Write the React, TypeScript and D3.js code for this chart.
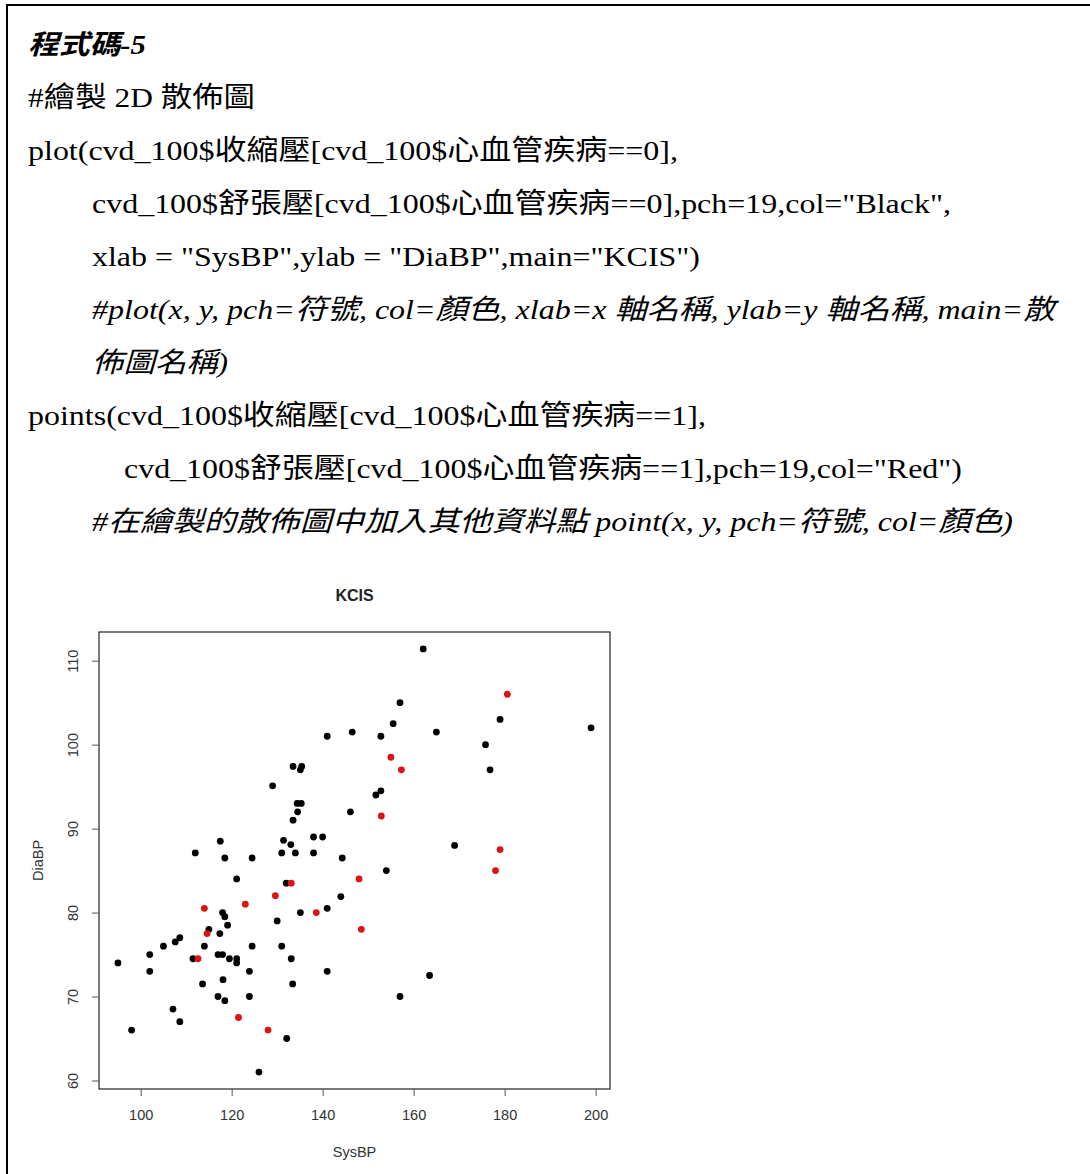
import React, { useEffect, useRef } from "react";
import * as d3 from "d3";

// ---- Data ----
const blackSys = [162.1, 157, 155.5, 179, 199, 141, 146.5, 152.8, 165, 175.8, 176.8, 133.5, 135.4, 135.1, 129, 151.7, 152.8, 134.4, 135.3, 134.5, 146.1, 133.5, 117.5, 131.4, 138, 140, 133, 169, 112, 131, 134, 138, 118.5, 124.5, 144.3, 154, 121.1, 132, 144, 141, 118, 118.5, 135.1, 130, 119.1, 115, 117.4, 108.6, 107.6, 105, 114, 124.5, 131, 102, 117, 118, 111.5, 119.5, 121.1, 121.1, 133.1, 95, 102, 123.9, 141, 118.1, 163.5, 113.6, 133.4, 117, 123.9, 157, 118.5, 107.1, 108.6, 98, 132.1, 126];
const blackDia = [111.4, 105, 102.5, 103, 102, 101, 101.5, 101, 101.5, 100, 97, 97.4, 97.4, 97, 95.1, 94, 94.5, 93, 93, 92, 92, 91, 88.5, 88.6, 89, 89, 88.1, 88, 87.1, 87.1, 87.1, 87.1, 86.5, 86.5, 86.5, 85, 84, 83.5, 81.9, 80.5, 80, 79.5, 80, 79, 78.5, 78, 77.5, 77, 76.5, 76, 76, 76, 76, 75, 75, 75, 74.5, 74.5, 74.5, 74, 74.5, 74, 73, 73, 73, 72, 72.5, 71.5, 71.5, 70, 70, 70, 69.5, 68.5, 67, 66, 65, 61];
const redSys = [180.6, 155, 157.3, 152.9, 179, 178, 148, 133.1, 129.6, 123, 114, 138.6, 148.5, 114.6, 112.6, 121.5, 128];
const redDia = [106, 98.5, 97, 91.5, 87.5, 85, 84, 83.5, 82, 81, 80.5, 80, 78, 77.5, 74.5, 67.5, 66];
const xTicks = [100, 120, 140, 160, 180, 200];
const yTicks = [60, 70, 80, 90, 100, 110];
const chartTitle = "KCIS";
const xLabel = "SysBP";
const yLabel = "DiaBP";

const codeLines = [
  "程式碼-5",
  "#繪製 2D 散佈圖",
  "plot(cvd_100$收縮壓[cvd_100$心血管疾病==0],",
  "cvd_100$舒張壓[cvd_100$心血管疾病==0],pch=19,col=\"Black\",",
  "xlab = \"SysBP\",ylab = \"DiaBP\",main=\"KCIS\")",
  "#plot(x, y, pch=符號, col=顏色, xlab=x 軸名稱, ylab=y 軸名稱, main=散",
  "佈圖名稱)",
  "points(cvd_100$收縮壓[cvd_100$心血管疾病==1],",
  "cvd_100$舒張壓[cvd_100$心血管疾病==1],pch=19,col=\"Red\")",
  "#在繪製的散佈圖中加入其他資料點 point(x, y, pch=符號, col=顏色)",
];

// layout for code lines (x start, baseline y, width, style)
const lineX = [28, 28, 28, 92, 92, 92, 92, 28, 124, 92];
const lineY = [54, 107, 160, 213, 266, 319, 372, 425, 478, 531];
const lineW = [118, 227, 650, 859, 608, 963, 136, 678, 838, 921];
const lineItalic = [true, false, false, false, false, true, true, false, false, true];
const lineBold = [true, false, false, false, false, false, false, false, false, false];

const W = 1090;
const H = 1174;
const plotL = 99, plotR = 610, plotT = 632, plotB = 1089;

export default function App() {
  const xAxisRef = useRef<SVGGElement>(null);
  const yAxisRef = useRef<SVGGElement>(null);

  const xExt = d3.extent([...blackSys, ...redSys]) as [number, number];
  const yExt = d3.extent([...blackDia, ...redDia]) as [number, number];
  const xPad = (xExt[1] - xExt[0]) * 0.04;
  const yPad = (yExt[1] - yExt[0]) * 0.04;
  const x = d3.scaleLinear().domain([xExt[0] - xPad, xExt[1] + xPad]).range([plotL, plotR]);
  const y = d3.scaleLinear().domain([yExt[0] - yPad, yExt[1] + yPad]).range([plotB, plotT]);

  useEffect(() => {
    if (xAxisRef.current) {
      const g = d3.select(xAxisRef.current);
      g.selectAll("*").remove();
      g.call(d3.axisBottom(x).tickValues(xTicks).tickSize(7).tickFormat(d3.format("d")) as any);
      g.select(".domain").remove();
      g.selectAll(".tick line").attr("stroke", "#555");
      g.selectAll(".tick text")
        .attr("y", 31)
        .attr("dy", 0)
        .attr("fill", "#333")
        .style("font-family", "'Liberation Sans', Arial, sans-serif")
        .style("font-size", "14.5px");
    }
    if (yAxisRef.current) {
      const g = d3.select(yAxisRef.current);
      g.selectAll("*").remove();
      g.call(d3.axisLeft(y).tickValues(yTicks).tickSize(7).tickFormat(d3.format("d")) as any);
      g.select(".domain").remove();
      g.selectAll(".tick line").attr("stroke", "#555");
      g.selectAll(".tick text")
        .attr("x", 0)
        .attr("y", 0)
        .attr("dy", 0)
        .attr("text-anchor", "middle")
        .attr("transform", "translate(-21,0) rotate(-90)")
        .attr("fill", "#333")
        .style("font-family", "'Liberation Sans', Arial, sans-serif")
        .style("font-size", "14.5px");
    }
  }, []);

  const r = 3.4;

  return (
    <svg
      width={W}
      height={H}
      viewBox={`0 0 ${W} ${H}`}
      style={{ position: "absolute", left: 0, top: 0, background: "#fff" }}
    >
      <rect x={0} y={0} width={W} height={H} fill="#fff" />
      {/* outer frame */}
      <line x1={7} y1={5} x2={W} y2={5} stroke="#000" strokeWidth={2} />
      <line x1={7} y1={4} x2={7} y2={H} stroke="#000" strokeWidth={2} />

      {/* code text */}
      {codeLines.map((t, i) => (
        <text
          key={i}
          x={lineX[i]}
          y={lineY[i]}
          textLength={lineW[i]}
          lengthAdjust="spacingAndGlyphs"
          fontFamily="'Liberation Serif', 'Times New Roman', 'Noto Sans CJK TC', serif"
          fontSize={i === 0 ? 27 : 28}
          fontStyle={lineItalic[i] ? "italic" : "normal"}
          fontWeight={lineBold[i] ? "bold" : "normal"}
          fill="#000"
        >
          {t}
        </text>
      ))}

      {/* chart */}
      <text
        x={(plotL + plotR) / 2}
        y={601}
        textAnchor="middle"
        fontFamily="'Liberation Sans', Arial, sans-serif"
        fontWeight="bold"
        fontSize={16}
        fill="#222"
      >
        {chartTitle}
      </text>
      <rect
        x={plotL}
        y={plotT}
        width={plotR - plotL}
        height={plotB - plotT}
        fill="none"
        stroke="#222"
        strokeWidth={1.2}
      />
      <g ref={xAxisRef} transform={`translate(0,${plotB})`} />
      <g ref={yAxisRef} transform={`translate(${plotL},0)`} />
      <text
        x={(plotL + plotR) / 2}
        y={1157}
        textAnchor="middle"
        fontFamily="'Liberation Sans', Arial, sans-serif"
        fontSize={14.5}
        fill="#333"
      >
        {xLabel}
      </text>
      <text
        transform={`translate(43,${(plotT + plotB) / 2}) rotate(-90)`}
        textAnchor="middle"
        fontFamily="'Liberation Sans', Arial, sans-serif"
        fontSize={14.5}
        fill="#333"
      >
        {yLabel}
      </text>

      <g>
        {blackSys.map((s, i) => (
          <circle key={"b" + i} cx={x(s)} cy={y(blackDia[i])} r={r} fill="#000" />
        ))}
      </g>
      <g>
        {redSys.map((s, i) => (
          <circle key={"r" + i} cx={x(s)} cy={y(redDia[i])} r={r} fill="#dd1212" />
        ))}
      </g>
    </svg>
  );
}
